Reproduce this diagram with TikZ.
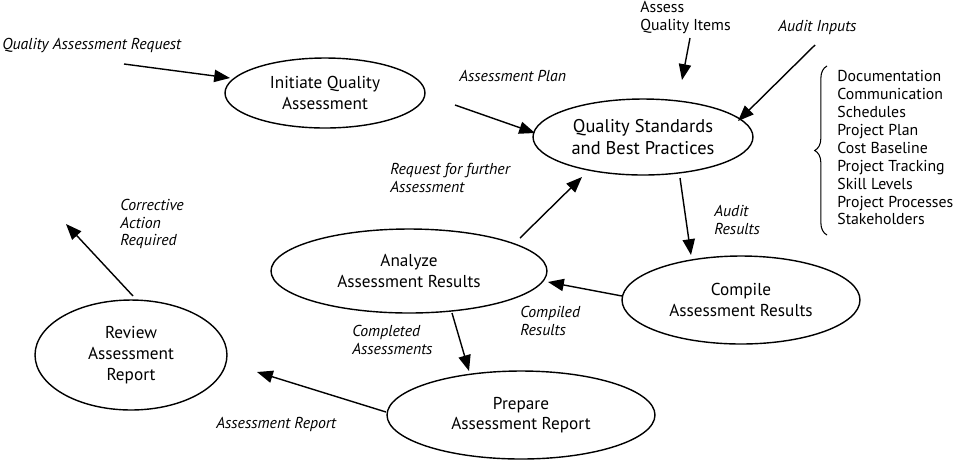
\documentclass[tikz,border=0pt]{standalone}
\usepackage{fontspec}
\setmainfont{PT Sans}
\usetikzlibrary{shapes.geometric,arrows.meta,decorations.pathreplacing}
\begin{document}
\begin{tikzpicture}[x=0.02cm,y=-0.02cm,
  every node/.style={font=\fontsize{9}{10.2}\selectfont},
  ell/.style={draw,ellipse,line width=0.8pt,inner sep=0pt,align=center,font=\fontsize{9.8}{11.8}\selectfont},
  arr/.style={line width=0.8pt,-{Triangle[length=9pt,width=7pt]}},
  lab/.style={font=\fontsize{9}{10.2}\selectfont\itshape,align=left,inner sep=0pt}]
\useasboundingbox (0,0) rectangle (959,461);
\node[ell,minimum width=4cm,minimum height=1.4cm] (init) at (325,93) {Initiate Quality\\Assessment};
\node[ell,minimum width=4.4cm,minimum height=1.52cm,font=\fontsize{10.5}{12.5}\selectfont] (qs) at (643,137) {Quality Standards\\and Best Practices};
\node[ell,minimum width=5.52cm,minimum height=1.68cm] (an) at (409,271) {Analyze\\Assessment Results};
\node[ell,minimum width=4.76cm,minimum height=1.76cm] (co) at (741,300) {Compile\\Assessment Results};
\node[ell,minimum width=3.84cm,minimum height=2.2cm] (rv) at (131,355) {Review\\Assessment\\Report};
\node[ell,minimum width=5.36cm,minimum height=1.76cm] (pr) at (521,415) {Prepare\\Assessment Report};

\node[lab,anchor=west] (l1) at (2,45) {Quality Assessment Request};
\node[lab,anchor=west] (l2) at (459,76) {Assessment Plan};
\node[align=left,inner sep=0pt,anchor=north west] (l3) at (640,1) {Assess\\Quality Items};
\node[lab,anchor=west] (l4) at (778,27) {Audit Inputs};
\node[lab,anchor=west] (l5) at (714,220) {Audit\\Results};
\node[lab,anchor=west] (l6) at (520,321) {Compiled\\Results};
\node[lab,anchor=west] (l7) at (390,178) {Request for further\\Assessment};
\node[lab,anchor=west] (l8) at (352,340) {Completed\\Assessments};
\node[lab,anchor=west] (l9) at (216,424) {Assessment Report};
\node[lab,anchor=west] (l10) at (120,224) {Corrective\\Action\\Required};

\coordinate (s1) at (124,64); \coordinate (e1) at (230,78);
\coordinate (s2) at (455,105); \coordinate (e2) at (535,133);
\coordinate (s3) at (690,38); \coordinate (e3) at (682,80);
\coordinate (s4) at (815,45); \coordinate (e4) at (738,121);
\coordinate (s5) at (680,178); \coordinate (e5) at (691,255);
\coordinate (s6) at (622,296); \coordinate (e6) at (548,282);
\coordinate (s7) at (520,238); \coordinate (e7) at (582,177);
\coordinate (s8) at (452,313); \coordinate (e8) at (469,371);
\coordinate (s9) at (386,412); \coordinate (e9) at (257,372);
\coordinate (s10) at (133,296); \coordinate (e10) at (66,224);
\foreach \i in {1,...,10} \draw[arr] (s\i) -- (e\i);

\draw[line width=0.6pt,decorate,decoration={brace,amplitude=7pt}] (827,235) -- (827,66);
\node[align=left,inner sep=0pt,anchor=north west] (list) at (837,70)
{Documentation\\Communication\\Schedules\\Project Plan\\Cost Baseline\\Project Tracking\\Skill Levels\\Project Processes\\Stakeholders};
\end{tikzpicture}
\end{document}
